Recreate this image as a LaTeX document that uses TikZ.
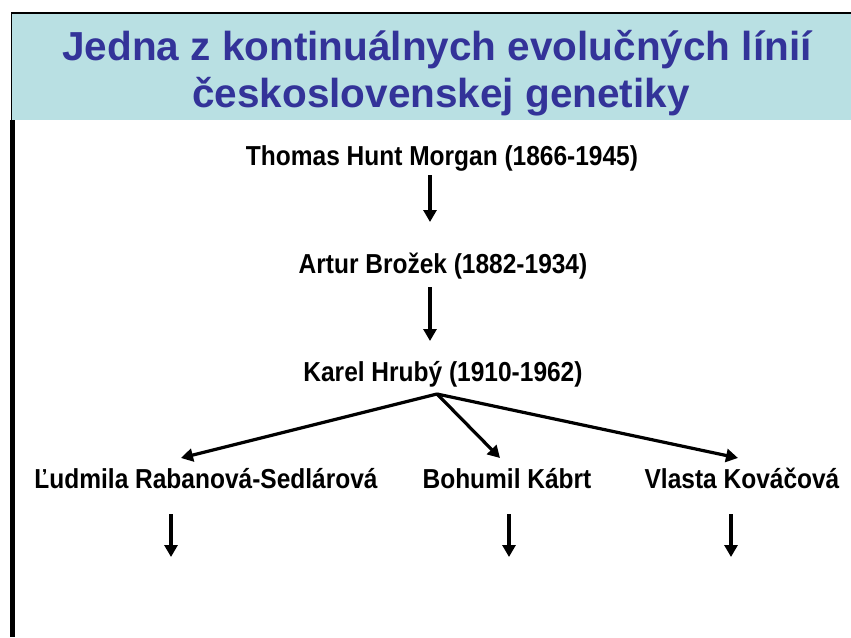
\documentclass[tikz,border=0pt]{standalone}
\usepackage{fontspec}
\setmainfont{Liberation Sans}
\usetikzlibrary{arrows.meta}
\definecolor{band}{HTML}{B9E0E3}
\definecolor{titleblue}{HTML}{333399}
\newcommand{\ptext}[1]{\scalebox{1}[1.12]{#1}}
\begin{document}
\begin{tikzpicture}[x=1pt,y=-1pt,
  person/.style={font=\bfseries\fontsize{24.5}{28}\selectfont, inner sep=0pt, anchor=base},
  titletext/.style={font=\bfseries\fontsize{40.5}{46}\selectfont, text=titleblue, inner sep=0pt, anchor=center},
  link/.style={line width=3.2pt, -{Triangle[length=12pt,width=13pt]}}]
\useasboundingbox (0,0) rectangle (851,637);
\fill[white] (0,0) rectangle (851,637);
\fill[band] (12,13) rectangle (851,120);
\draw[line width=1.5pt] (11,13) -- (851,13);
\draw[line width=1.5pt] (11.5,13) -- (11.5,120);
\draw[line width=5pt] (12.5,120) -- (12.5,637);
\node[titletext] (t1) at (437,50) {Jedna z kontinuálnych evolučných línií};
\node[titletext] (t2) at (441,97) {československej genetiky};
\node[person] (morgan) at (442,165) {\ptext{Thomas Hunt Morgan (1866-1945)}};
\node[person] (brozek) at (443,273) {\ptext{Artur Brožek (1882-1934)}};
\node[person] (hruby) at (443,381) {\ptext{Karel Hrubý (1910-1962)}};
\node[person] (rab) at (206,488) {\ptext{Ľudmila Rabanová-Sedlárová}};
\node[person] (kab) at (507,488) {\ptext{Bohumil Kábrt}};
\node[person] (kov) at (742,488) {\ptext{Vlasta Kováčová}};
\coordinate (a1s) at (430,175); \coordinate (a1e) at (430,222);
\coordinate (a2s) at (430,287); \coordinate (a2e) at (430,341);
\coordinate (br) at (437,394);
\coordinate (rabe) at (181,458);
\coordinate (kabe) at (500,458);
\coordinate (kove) at (738,458);
\coordinate (d1s) at (171,514); \coordinate (d1e) at (171,557);
\coordinate (d2s) at (509,514); \coordinate (d2e) at (509,557);
\coordinate (d3s) at (731,514); \coordinate (d3e) at (731,557);
\draw[link] (a1s) -- (a1e);
\draw[link] (a2s) -- (a2e);
\draw[link] (br) -- (rabe);
\draw[link] (br) -- (kabe);
\draw[link] (br) -- (kove);
\draw[link] (d1s) -- (d1e);
\draw[link] (d2s) -- (d2e);
\draw[link] (d3s) -- (d3e);
\end{tikzpicture}
\end{document}
